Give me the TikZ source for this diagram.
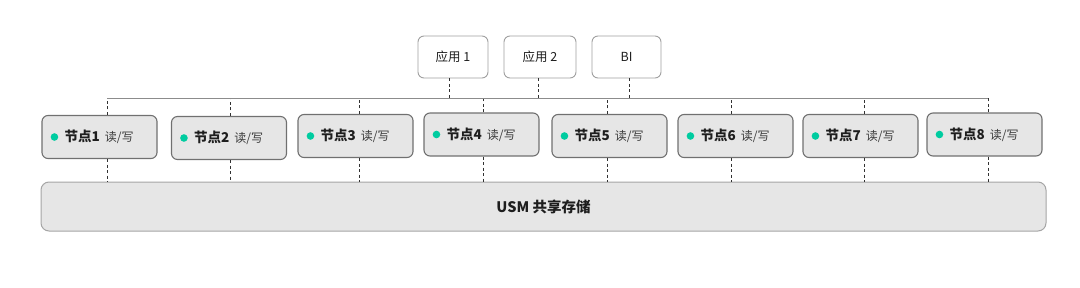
\documentclass[tikz,border=0pt]{standalone}
\usepackage{fontspec}
\setmainfont{Noto Sans CJK SC}
\usetikzlibrary{positioning, calc}
\definecolor{boxfill}{RGB}{230,230,230}
\definecolor{boxedge}{RGB}{112,112,112}
\definecolor{appedge}{RGB}{160,160,160}
\definecolor{storeedge}{RGB}{165,165,165}
\definecolor{busline}{RGB}{140,140,140}
\definecolor{dashgray}{RGB}{50,50,50}
\definecolor{dotteal}{RGB}{0,204,160}
\definecolor{txtdark}{RGB}{30,30,30}
\definecolor{txtsoft}{RGB}{60,60,60}
\tikzset{
  appbox/.style={rectangle, draw=appedge, fill=white, rounded corners=6pt,
    line width=0.9pt, minimum height=42pt, minimum width=70pt,
    font=\fontsize{12.5}{14}\selectfont, text=txtdark},
  nodebox/.style={rectangle, draw=boxedge, fill=boxfill, rounded corners=6pt,
    line width=1.1pt, minimum width=115pt, minimum height=43pt},
  nodelabel/.style={anchor=west, inner sep=0pt,
    font=\fontsize{13.5}{15}\selectfont\bfseries, text=txtdark},
  storebox/.style={rectangle, draw=storeedge, fill=boxfill, rounded corners=8pt,
    line width=1pt, minimum width=1005pt, minimum height=49pt,
    font=\fontsize{14.5}{16}\selectfont\bfseries, text=txtdark},
  link/.style={dashgray, line width=1pt, dash pattern=on 3pt off 2.5pt},
  bus/.style={busline, line width=0.9pt}
}

\begin{document}
\begin{tikzpicture}[x=1pt, y=-1pt]
  \useasboundingbox (0,0) rectangle (1080,287);
  % Applications
  \node[appbox] (a1) at (453,57) {应用 1};
  \node[appbox, minimum width=72pt] (a2) at (540,57) {应用 2};
  \node[appbox, minimum width=69pt] (a3) at (626.5,57) {BI};
  \coordinate (bus) at (0,98);

  % Shared storage
  \node[storebox] (store) at (543.5,206.5) {USM 共享存储};

  % Compute nodes (\d = x of their dashed links)
  \foreach \i/\x/\y/\d in {1/99.5/137/107, 2/229/138/230, 3/355.5/136/359.5,
                           4/481.5/134.5/483, 5/609.5/136/607.5, 6/735.5/136/731.5,
                           7/860.5/136/864, 8/984.5/134.5/988} {
    \node[nodebox] (n\i) at (\x,\y) {};
    \coordinate (d\i) at (\d,\y);
    \fill[dotteal] ($(n\i.west)+(13,0)$) circle (3.8pt);
    \node[nodelabel] (t\i) at ($(n\i.west)+(23,0)$)
      {节点\i\hspace{5pt}{\fontsize{12}{13}\selectfont\mdseries\color{txtsoft}读/写}};
    \draw[link] (d\i |- n\i.north) -- (d\i |- bus);
    \draw[link] (d\i |- n\i.south) -- (d\i |- store.north);
  }

  % Apps to bus
  \foreach \a/\d in {a1/449, a2/538.5, a3/629} {
    \coordinate (p\a) at (\d,0);
    \draw[link] (p\a |- \a.south) -- (p\a |- bus);
  }
  \draw[bus] (d1 |- bus) -- (d8 |- bus);
\end{tikzpicture}
\end{document}
